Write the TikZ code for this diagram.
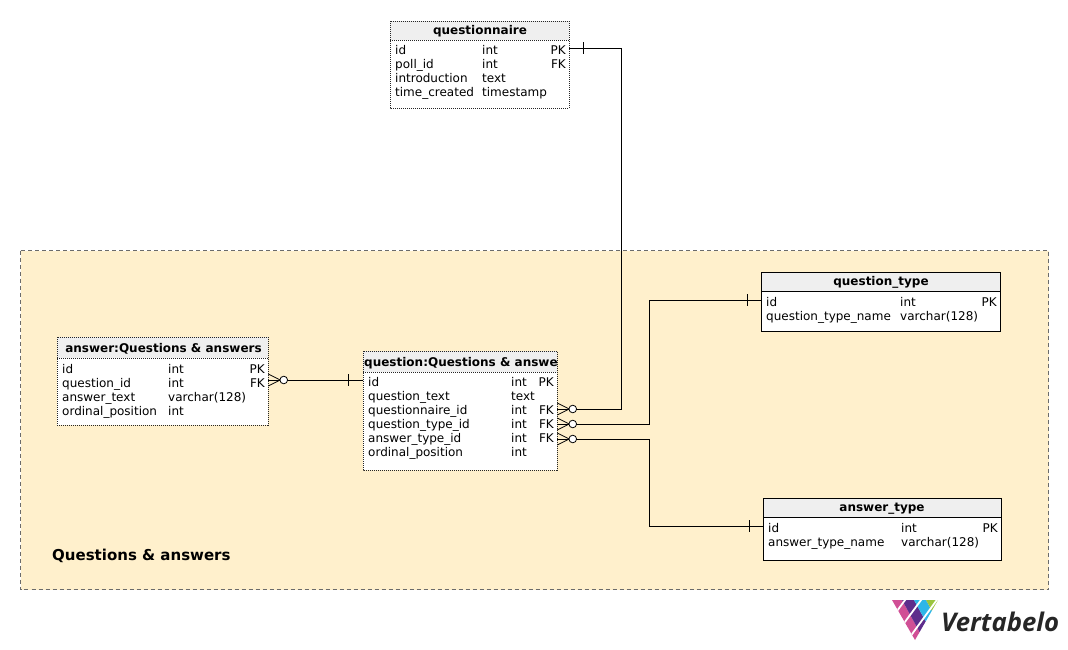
\documentclass[tikz,border=0pt]{standalone}
\usepackage{fontspec}
\setmainfont{DejaVu Sans}
\newfontfamily\logofont{Open Sans}
\usetikzlibrary{calc}
\definecolor{areafill}{HTML}{FFF0CC}
\definecolor{headfill}{HTML}{EFEFEF}
\definecolor{logopink}{HTML}{D04F95}
\definecolor{logopurple}{HTML}{5E2D8C}
\definecolor{logoblue}{HTML}{2DB6E8}
\definecolor{logogreen}{HTML}{9BC53D}
\tikzset{
    rowtext/.style={anchor=base west, inner sep=0pt, font=\fontsize{12}{14}\selectfont},
    keytext/.style={anchor=base east, inner sep=0pt, font=\fontsize{12}{14}\selectfont},
    titletext/.style={inner sep=0pt, font=\fontsize{12}{14}\selectfont\bfseries},
    boxsolid/.style={draw=black, line width=0.9pt},
    boxdots/.style={draw=black!85, line width=0.9pt, dash pattern=on 1pt off 1pt},
    link/.style={draw=black, line width=0.9pt},
    foot/.style={draw=black, line width=0.8pt},
}
\begin{document}
\begin{tikzpicture}[x=1pt, y=-1pt]
    \useasboundingbox (0 , 0) rectangle (1068 , 650);
    % Subject area
    \fill[areafill] (20.5 , 250.5) rectangle (1048.5 , 589.5);
    \draw[draw=black!58, dash pattern=on 4pt off 3pt, line width=1.4pt] (20.5 , 250.5) rectangle (1048.5 , 589.5);
    \node[anchor=base west, inner sep=0pt, font=\fontsize{15}{17}\selectfont\bfseries] (areatitle) at (52 , 560) {Questions \& answers};
    % questionnaire
    \fill[white] (390.25 , 21.25) rectangle (569.25 , 108.25);
    \fill[headfill] (390.25 , 21.25) rectangle (569.25 , 40.25);
    \draw[boxdots] (390.25 , 21.25) rectangle (569.25 , 108.25);
    \draw[boxdots] (390.25 , 40.25) -- (569.25 , 40.25);
    \node[titletext] (qnrtitle) at (480 , 31.5) {questionnaire};
    \foreach \i/\y/\a/\b/\c in {1/55/id/int/PK, 2/69/poll\_id/int/FK, 3/83/introduction/text/, 4/97/time\_created/timestamp/} {
        \node[rowtext] (qnrname\i) at (395 , \y) {\a};
        \node[rowtext] (qnrtype\i) at (482 , \y) {\b};
        \node[keytext] (qnrkey\i) at (566 , \y) {\c};
    }
    \coordinate (qnrport) at (569.25 , 48.25);
    % answer
    \fill[white] (57.25 , 337.25) rectangle (268.25 , 425.25);
    \fill[headfill] (57.25 , 337.25) rectangle (268.25 , 358.25);
    \draw[boxdots] (57.25 , 337.25) rectangle (268.25 , 425.25);
    \draw[boxdots] (57.25 , 358.25) -- (268.25 , 358.25);
    \node[titletext] (anstitle) at (163.5 , 348.5) {answer:Questions \& answers};
    \foreach \i/\y/\a/\b/\c in {1/373/id/int/PK, 2/387/question\_id/int/FK, 3/401/answer\_text/varchar(128)/, 4/415/ordinal\_position/int/} {
        \node[rowtext] (ansname\i) at (62 , \y) {\a};
        \node[rowtext] (anstype\i) at (168 , \y) {\b};
        \node[keytext] (anskey\i) at (265 , \y) {\c};
    }
    \coordinate (ansport) at (268.25 , 380);
    % question
    \fill[white] (363.25 , 351.25) rectangle (557.25 , 470.25);
    \fill[headfill] (363.25 , 351.25) rectangle (557.25 , 372.25);
    \begin{scope}
        \clip (363.25 , 351.25) rectangle (557.25 , 372.25);
        \node[titletext, anchor=base west] (questitle) at (364 , 366) {question:Questions \& answers};
    \end{scope}
    \draw[boxdots] (363.25 , 351.25) rectangle (557.25 , 470.25);
    \draw[boxdots] (363.25 , 372.25) -- (557.25 , 372.25);
    \foreach \i/\y/\a/\b/\c in {1/386/id/int/PK, 2/400/question\_text/text/, 3/414/questionnaire\_id/int/FK, 4/428/question\_type\_id/int/FK, 5/442/answer\_type\_id/int/FK, 6/456/ordinal\_position/int/} {
        \node[rowtext] (quesname\i) at (368 , \y) {\a};
        \node[rowtext] (questype\i) at (511 , \y) {\b};
        \node[keytext] (queskey\i) at (554 , \y) {\c};
    }
    \coordinate (quesportl) at (363.25 , 380);
    \coordinate (quesporta) at (557.25 , 409);
    \coordinate (quesportb) at (557.25 , 424);
    \coordinate (quesportc) at (557.25 , 439);
    % question_type
    \fill[white] (761.25 , 272.25) rectangle (1000.25 , 331.25);
    \fill[headfill] (761.25 , 272.25) rectangle (1000.25 , 291.25);
    \draw[boxsolid] (761.25 , 272.25) rectangle (1000.25 , 331.25);
    \draw[boxsolid] (761.25 , 291.25) -- (1000.25 , 291.25);
    \node[titletext] (qtptitle) at (881 , 282.5) {question\_type};
    \foreach \i/\y/\a/\b/\c in {1/306/id/int/PK, 2/320/question\_type\_name/varchar(128)/} {
        \node[rowtext] (qtpname\i) at (766 , \y) {\a};
        \node[rowtext] (qtptype\i) at (900 , \y) {\b};
        \node[keytext] (qtpkey\i) at (997 , \y) {\c};
    }
    \coordinate (qtpport) at (761.25 , 300);
    % answer_type
    \fill[white] (763.25 , 498.25) rectangle (1001.25 , 560.25);
    \fill[headfill] (763.25 , 498.25) rectangle (1001.25 , 517.25);
    \draw[boxsolid] (763.25 , 498.25) rectangle (1001.25 , 560.25);
    \draw[boxsolid] (763.25 , 517.25) -- (1001.25 , 517.25);
    \node[titletext] (atptitle) at (882 , 508.5) {answer\_type};
    \foreach \i/\y/\a/\b/\c in {1/532/id/int/PK, 2/546/answer\_type\_name/varchar(128)/} {
        \node[rowtext] (atpname\i) at (768 , \y) {\a};
        \node[rowtext] (atptype\i) at (901 , \y) {\b};
        \node[keytext] (atpkey\i) at (998 , \y) {\c};
    }
    \coordinate (atpport) at (763.25 , 526);
    % Connectors
    \draw[link] (qnrport) -- (621.25 , 48.25) -- (621.25 , 409) -- ($(quesporta)+(19 , 0)$);
    \draw[link] (qtpport) -- (649.25 , 300) -- (649.25 , 424) -- ($(quesportb)+(19 , 0)$);
    \draw[link] (atpport) -- (649.25 , 526) -- (649.25 , 439) -- ($(quesportc)+(19 , 0)$);
    \draw[link] (quesportl) -- ($(ansport)+(19 , 0)$);
    % One ends
    \draw[foot] ($(qnrport)+(14 , -6)$) -- ($(qnrport)+(14 , 6)$);
    \draw[foot] ($(qtpport)+(-14 , -6)$) -- ($(qtpport)+(-14 , 6)$);
    \draw[foot] ($(atpport)+(-14 , -6)$) -- ($(atpport)+(-14 , 6)$);
    \draw[foot] ($(quesportl)+(-15 , -6)$) -- ($(quesportl)+(-15 , 6)$);
    % Many ends
    \foreach \p in {quesporta, quesportb, quesportc, ansport} {
        \draw[foot] ($(\p)+(0 , -6)$) -- ($(\p)+(12 , 0)$) -- ($(\p)+(0 , 6)$);
        \draw[foot] (\p) -- ($(\p)+(12 , 0)$);
        \draw[foot, fill=white] ($(\p)+(15.5 , 0)$) circle (3.8);
    }
    % Logo
    \begin{scope}
        \clip (892 , 600) -- (938 , 600) -- (915 , 640) -- cycle;
        \fill[logopink] (892 , 600) -- (902 , 600) -- (924 , 640) -- (905 , 640) -- cycle;
        \fill[logopurple] (902 , 600) -- (914 , 600) -- (936 , 640) -- (924 , 640) -- cycle;
        \fill[logoblue] (914 , 600) -- (926 , 600) -- (948 , 640) -- (936 , 640) -- cycle;
        \fill[logogreen] (926 , 600) -- (940 , 600) -- (960 , 640) -- (948 , 640) -- cycle;
        \draw[white, line width=1.8pt] (908 , 596) -- (883 , 630);
        \draw[white, line width=1.8pt] (924 , 596) -- (899 , 630);
        \draw[white, line width=1.8pt] (939 , 597) -- (907 , 641);
    \end{scope}
    \node[anchor=base west, inner sep=0pt, text=black!85, font=\logofont\fontsize{25.7}{28}\selectfont\bfseries\itshape] (logotext) at (941 , 631) {Vertabelo};
\end{tikzpicture}
\end{document}
